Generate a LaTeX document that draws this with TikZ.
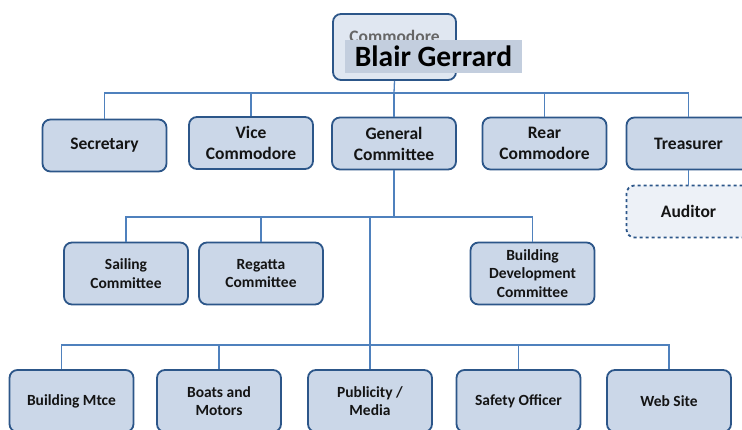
\documentclass[tikz,border=0pt]{standalone}
\usepackage{fontspec}
\setmainfont{Carlito}
\usepackage{xcolor}

\definecolor{boxfill}{HTML}{CBD7E8}
\definecolor{boxline}{HTML}{2C5689}
\definecolor{linkblue}{HTML}{4F81BD}
\definecolor{txt}{HTML}{141414}

\begin{document}
\begin{tikzpicture}[x=1pt, y=-1pt,
	post/.style={draw=boxline, line width=1.8pt, fill=boxfill, rounded corners=8pt,
		align=center, text=txt, font=\bfseries\fontsize{17.5}{21}\selectfont,
		minimum width=124pt, minimum height=52pt, inner sep=2pt},
	subpost/.style={post, font=\bfseries\fontsize{15.5}{18.5}\selectfont, minimum height=62pt},
	link/.style={draw=linkblue, line width=1.3pt}]
	\useasboundingbox (0,0) rectangle (742,430);

	% Commodore and name
	\node[post, fill=boxfill!60, text=black!60, minimum width=123pt, minimum height=66pt,
		text depth=22pt] (comm) at (394.5, 47) {Commodore};
	\node[fill=boxfill!90!gray, font=\bfseries\fontsize{29.5}{32}\selectfont, text=black,
		minimum width=177pt, minimum height=33pt, inner sep=0pt] (name) at (433.5, 56.5) {Blair Gerrard};

	% First row
	\node[post] (sec) at (104.5, 145.5) {Secretary};
	\node[post] (vice) at (251, 143) {Vice\\Commodore};
	\node[post] (gen) at (394, 143.5) {General\\Committee};
	\node[post] (rear) at (544.5, 143.5) {Rear\\Commodore};
	\node[post] (treas) at (688.5, 143.5) {Treasurer};
	\node[post, dashed, fill=boxfill!35] (aud) at (688.5, 211.5) {Auditor};

	% Committees
	\node[subpost] (sail) at (126, 273.5) {Sailing\\Committee};
	\node[subpost] (reg) at (261, 273.5) {Regatta\\Committee};
	\node[subpost] (bdc) at (532.5, 273.5) {Building\\Development\\Committee};

	% Bottom row
	\node[subpost] (mtce) at (71.5, 401) {Building Mtce};
	\node[subpost] (boats) at (219, 401) {Boats and\\Motors};
	\node[subpost] (pub) at (370, 401) {Publicity /\\Media};
	\node[subpost] (safe) at (518.5, 401) {Safety Officer};
	\node[subpost] (web) at (669, 401) {Web Site};

	\coordinate (top) at (394, 93);
	\coordinate (mid) at (394, 217);
	\coordinate (low) at (370, 345);

	% Draw the edges between the posts
	\draw[link] (comm.south) -- (top);
	\draw[link] (sec.north) |- (top) -| (treas.north);
	\draw[link] (vice.north) -- (vice.north |- top);
	\draw[link] (gen.north) -- (gen.north |- top);
	\draw[link] (rear.north) -- (rear.north |- top);
	\draw[link] (treas.south) -- (aud.north);

	\draw[link] (gen.south) -- (mid);
	\draw[link] (sail.north) |- (mid) -| (bdc.north);
	\draw[link] (reg.north) -- (reg.north |- mid);
	\draw[link] (pub.north |- mid) -- (pub.north);

	\draw[link] ([xshift=-10pt]mtce.north) |- (low) -| (web.north);
	\draw[link] (boats.north) -- (boats.north |- low);
	\draw[link] (safe.north) -- (safe.north |- low);
\end{tikzpicture}
\end{document}
